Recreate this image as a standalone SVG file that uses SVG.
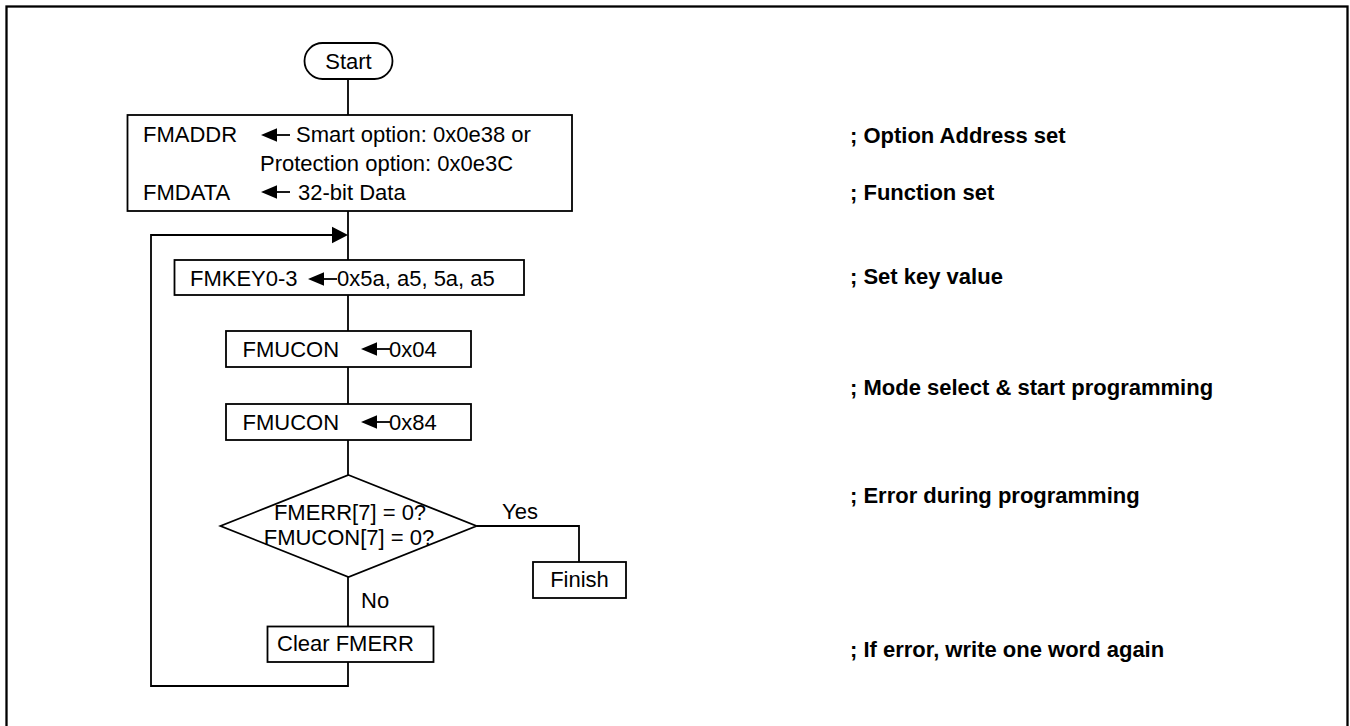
<svg xmlns="http://www.w3.org/2000/svg" width="1350" height="726" viewBox="0 0 1350 726">
<style>
.box{fill:#fff;stroke:#000;stroke-width:1.8}
.ln{fill:none;stroke:#000;stroke-width:1.8}
.t{font-family:"Liberation Sans",Arial,sans-serif;font-size:22px;fill:#000}
.c{text-anchor:middle}
.cm{font-family:"Liberation Sans",Arial,sans-serif;font-size:22px;font-weight:bold;fill:#000}
.ah{fill:#000;stroke:none}
</style>
<defs>
<g id="larrow">
<polygon class="ah" points="0,0 16,-6.7 16,6.7"/>
<line x1="15" y1="0" x2="29" y2="0" stroke="#000" stroke-width="1.8"/>
</g>
</defs>
<rect x="6.5" y="6.5" width="1341" height="740" fill="none" stroke="#000" stroke-width="2.3"/>
<g id="connectors">
<line class="ln" x1="348" y1="79" x2="348" y2="115"/>
<line class="ln" x1="348" y1="211" x2="348" y2="260"/>
<line class="ln" x1="348" y1="295" x2="348" y2="331"/>
<line class="ln" x1="348" y1="367" x2="348" y2="404"/>
<line class="ln" x1="348" y1="440" x2="348" y2="475"/>
<polyline class="ln" points="476.5,526 579,526 579,562"/>
<line class="ln" x1="348" y1="577" x2="348" y2="626"/>
<polyline class="ln" points="348,662 348,686 151,686 151,235 334,235"/>
<polygon class="ah" points="348,235 332,226.7 332,243.3"/>
<text class="t" x="502" y="519">Yes</text>
<text class="t" x="361" y="608">No</text>
</g>
<g id="start">
<rect class="box" x="304.5" y="43" width="88" height="36" rx="18" ry="18"/>
<text class="t c" x="348.5" y="69">Start</text>
</g>
<g id="set-address">
<rect class="box" x="127.5" y="115" width="444.5" height="96"/>
<text class="t" x="143" y="142">FMADDR</text>
<use href="#larrow" x="261" y="135"/>
<text class="t" x="296" y="142">Smart option: 0x0e38 or</text>
<text class="t" x="260" y="171">Protection option: 0x0e3C</text>
<text class="t" x="143" y="200">FMDATA</text>
<use href="#larrow" x="261" y="192"/>
<text class="t" x="298" y="200">32-bit Data</text>
</g>
<g id="set-key">
<rect class="box" x="174.5" y="260" width="349.5" height="35"/>
<text class="t" x="190" y="286">FMKEY0-3</text>
<use href="#larrow" x="308" y="279"/>
<text class="t" x="337" y="286">0x5a, a5, 5a, a5</text>
</g>
<g id="fmucon-04">
<rect class="box" x="226" y="331" width="245" height="36"/>
<text class="t" x="242.5" y="357">FMUCON</text>
<use href="#larrow" x="361" y="349"/>
<text class="t" x="389" y="357">0x04</text>
</g>
<g id="fmucon-84">
<rect class="box" x="226" y="404" width="245" height="36"/>
<text class="t" x="242.5" y="430">FMUCON</text>
<use href="#larrow" x="361" y="422"/>
<text class="t" x="389" y="430">0x84</text>
</g>
<g id="decision">
<polygon class="box" points="348.5,475 476.5,526 348.5,577 220.5,526"/>
<text class="t c" x="350" y="520">FMERR[7] = 0?</text>
<text class="t c" x="349" y="545">FMUCON[7] = 0?</text>
</g>
<g id="finish">
<rect class="box" x="533" y="562" width="93" height="36"/>
<text class="t c" x="579.5" y="587">Finish</text>
</g>
<g id="clear-fmerr">
<rect class="box" x="267.5" y="626.5" width="166" height="35.5"/>
<text class="t" x="277" y="651">Clear FMERR</text>
</g>
<g id="comments">
<text class="cm" x="850" y="143">; Option Address set</text>
<text class="cm" x="850" y="200">; Function set</text>
<text class="cm" x="850" y="284">; Set key value</text>
<text class="cm" x="850" y="395">; Mode select &amp; start programming</text>
<text class="cm" x="850" y="503">; Error during programming</text>
<text class="cm" x="850" y="657">; If error, write one word again</text>
</g>
</svg>
